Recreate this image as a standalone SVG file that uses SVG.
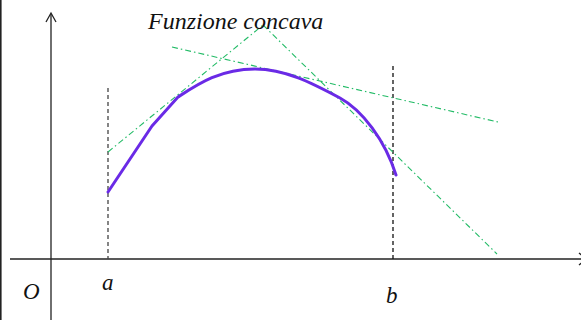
<svg xmlns="http://www.w3.org/2000/svg" width="581" height="320" viewBox="0 0 581 320">
<style>
.axis{stroke:#222;stroke-width:1.3;fill:none}
.guide{stroke:#444;stroke-width:1.3;stroke-dasharray:4,3;fill:none}
.tan{stroke:#22bb66;stroke-width:1.1;stroke-dasharray:6,3,1.5,3;fill:none}
.curve{stroke:#6a2ae6;stroke-width:3;fill:none;stroke-linejoin:round;stroke-linecap:round}
.lbl{font-family:"Liberation Serif","Times New Roman",serif;font-style:italic;fill:#111}
</style>
<rect x="0" y="0" width="581" height="320" fill="#fff"/>
<line x1="0.8" y1="0" x2="0.8" y2="320" stroke="#222" stroke-width="1.6"/>
<g id="axes">
<line class="axis" x1="51" y1="320" x2="51" y2="14"/>
<polyline class="axis" points="46,22 51,13 56,22"/>
<line class="axis" x1="10" y1="259" x2="581" y2="259"/>
<polyline class="axis" points="579,253 586,259 579,265"/>
</g>
<g id="guides">
<line class="guide" x1="108" y1="88" x2="108" y2="259"/>
<line class="guide" x1="393" y1="66" x2="393" y2="259" style="stroke:#111"/>
</g>
<g id="tangents">
<line class="tan" x1="108" y1="152" x2="263" y2="25"/>
<line class="tan" x1="263" y1="25" x2="497" y2="254"/>
<line class="tan" x1="172" y1="47" x2="498" y2="122"/>
</g>
<g id="curve">
<path class="curve" d="M108,192 L130,159 L152,126 L178,97 C198,84 220,69 255,69 C285,69 312,83 340,98 C362,110 385,140 396,175"/>
</g>
<g id="labels">
<text class="lbl" x="148" y="29" font-size="24">Funzione concava</text>
<text class="lbl" x="23" y="299" font-size="23">O</text>
<text class="lbl" x="102" y="290" font-size="23">a</text>
<text class="lbl" x="386" y="303" font-size="23">b</text>
</g>
</svg>
